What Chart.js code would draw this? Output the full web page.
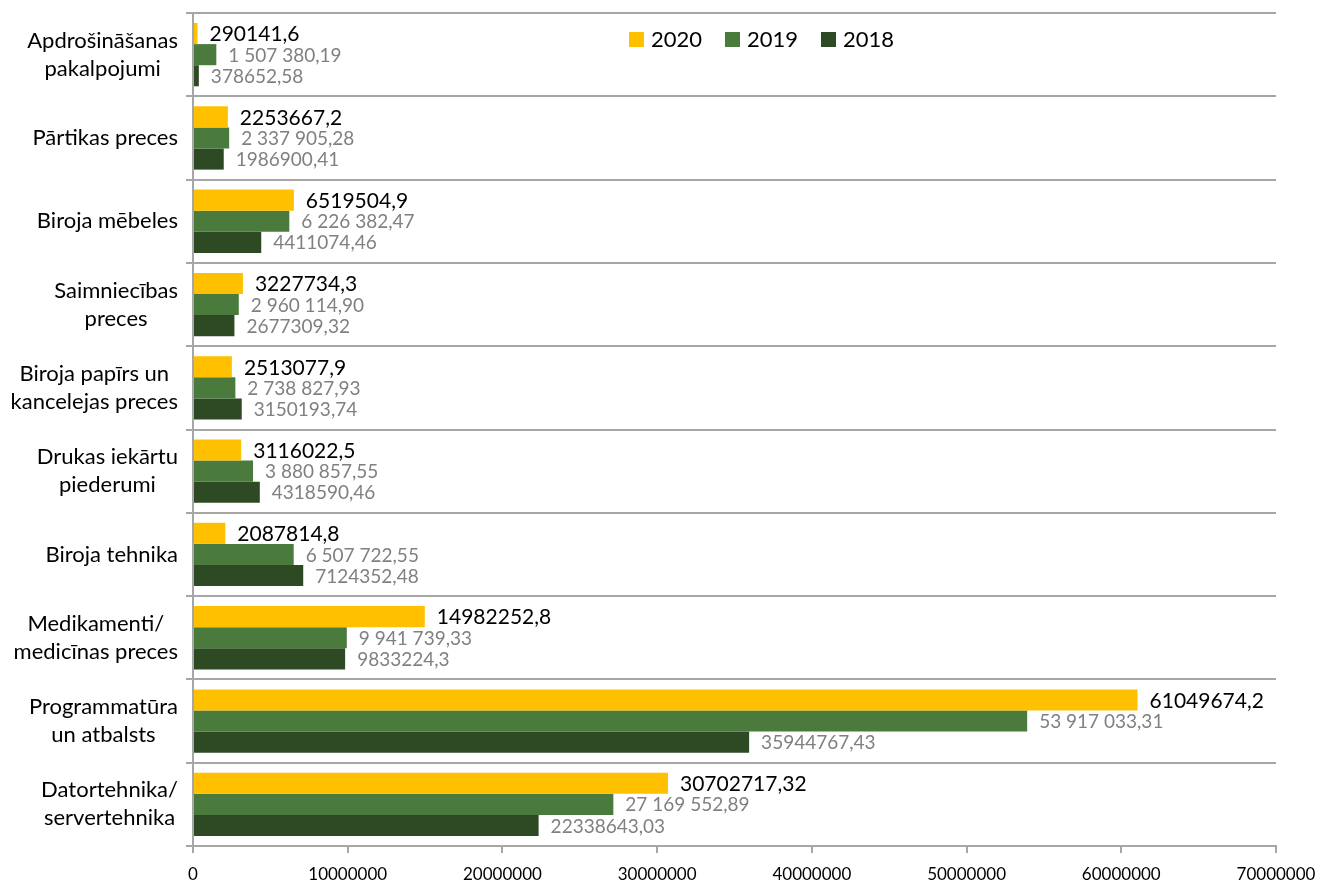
<!DOCTYPE html>
<html>
<head>
<meta charset="utf-8">
<script src="https://cdn.jsdelivr.net/npm/chart.js@4.4.1/dist/chart.umd.min.js"></script>
<style>
  html, body { margin: 0; padding: 0; background: #ffffff; }
  #wrap { width: 1322px; height: 882px; }
</style>
</head>
<body>
<div id="wrap"><canvas id="chart" width="1322" height="882"></canvas></div>
<script>
// Categories (top to bottom)
const categories = [
    ['Apdrošināšanas', 'pakalpojumi'],
    ['Pārtikas preces'],
    ['Biroja mēbeles'],
    ['Saimniecības', 'preces'],
    ['Biroja papīrs un', 'kancelejas preces'],
    ['Drukas iekārtu', 'piederumi'],
    ['Biroja tehnika'],
    ['Medikamenti/', 'medicīnas preces'],
    ['Programmatūra', 'un atbalsts'],
    ['Datortehnika/', 'servertehnika']
];

// Series values
const values2020 = [290141.6, 2253667.2, 6519504.9, 3227734.3, 2513077.9, 3116022.5, 2087814.8, 14982252.8, 61049674.2, 30702717.32];
const values2019 = [1507380.19, 2337905.28, 6226382.47, 2960114.90, 2738827.93, 3880857.55, 6507722.55, 9941739.33, 53917033.31, 27169552.89];
const values2018 = [378652.58, 1986900.41, 4411074.46, 2677309.32, 3150193.74, 4318590.46, 7124352.48, 9833224.3, 35944767.43, 22338643.03];

// X axis ticks
const xTicks = [0, 10000000, 20000000, 30000000, 40000000, 50000000, 60000000, 70000000];

const FONT = 'Lato, "Open Sans", sans-serif';
const AXIS_GREY = '#A6A6A6';

// label formats: 2020 and 2018 plain with comma decimal, 2019 grouped with spaces
function plainComma(v) {
    return String(v).replace('.', ',');
}
function groupedComma(v) {
    const parts = v.toFixed(2).split('.');
    return parts[0].replace(/\B(?=(\d{3})+(?!\d))/g, ' ') + ',' + parts[1];
}

const labelStyles = [
    { format: plainComma, color: '#000000', font: '21px ' + FONT },
    { format: groupedComma, color: '#808080', font: '19px ' + FONT },
    { format: plainComma, color: '#808080', font: '19px ' + FONT }
];

// Draws value labels at the end of each bar
const valueLabels = {
    id: 'valueLabels',
    afterDatasetsDraw(chart) {
        const ctx = chart.ctx;
        ctx.save();
        ctx.textAlign = 'left';
        ctx.textBaseline = 'middle';
        chart.data.datasets.forEach((ds, di) => {
            const meta = chart.getDatasetMeta(di);
            const style = labelStyles[di];
            ctx.font = style.font;
            ctx.fillStyle = style.color;
            meta.data.forEach((bar, i) => {
                ctx.fillText(style.format(ds.data[i]), bar.x + 12, bar.y + 1);
            });
        });
        ctx.restore();
    }
};

// Category labels: lines centred, block right aligned against the axis
const categoryLabels = {
    id: 'categoryLabels',
    afterDraw(chart) {
        const ctx = chart.ctx;
        const yScale = chart.scales.y;
        const right = yScale.right - 15;
        const lineH = 28;
        ctx.save();
        ctx.font = '22px ' + FONT;
        ctx.fillStyle = '#000000';
        ctx.textAlign = 'center';
        ctx.textBaseline = 'middle';
        categories.forEach((lines, i) => {
            const cy = yScale.getPixelForTick(i);
            const w = Math.max(...lines.map(l => ctx.measureText(l).width));
            const cx = right - w / 2;
            const startY = cy - (lines.length - 1) * lineH / 2;
            lines.forEach((l, k) => ctx.fillText(l, cx, startY + k * lineH));
        });
        ctx.restore();
    }
};

// Legend drawn inside the plot area
const insideLegend = {
    id: 'insideLegend',
    afterDraw(chart) {
        const ctx = chart.ctx;
        const area = chart.chartArea;
        let x = area.left + 436;
        const y = area.top + 27;
        ctx.save();
        ctx.font = '22px ' + FONT;
        ctx.textBaseline = 'middle';
        ctx.textAlign = 'left';
        chart.data.datasets.forEach(ds => {
            ctx.fillStyle = ds.backgroundColor;
            ctx.fillRect(x, y - 8, 15, 15);
            ctx.fillStyle = '#000000';
            ctx.fillText(ds.label, x + 22, y);
            x += 96;
        });
        ctx.restore();
    }
};

const ctx = document.getElementById('chart').getContext('2d');
new Chart(ctx, {
    type: 'bar',
    data: {
        labels: categories,
        datasets: [
            { label: '2020', data: values2020, backgroundColor: '#FFC000' },
            { label: '2019', data: values2019, backgroundColor: '#4A7A3C' },
            { label: '2018', data: values2018, backgroundColor: '#2D4A25' }
        ]
    },
    options: {
        indexAxis: 'y',
        responsive: false,
        animation: false,
        categoryPercentage: 0.76,
        barPercentage: 1,
        layout: { padding: { top: 13, right: 46, left: 0, bottom: 0 } },
        plugins: {
            legend: { display: false },
            tooltip: { enabled: false }
        },
        scales: {
            x: {
                min: 0,
                max: 70000000,
                afterBuildTicks: scale => { scale.ticks = xTicks.map(v => ({ value: v })); },
                afterFit: scale => {
                    scale.height = 36;
                    scale.paddingRight = 0;
                    scale.paddingLeft = 0;
                },
                grid: { drawOnChartArea: false, drawTicks: true, tickLength: 7, color: AXIS_GREY, lineWidth: 2 },
                border: { color: AXIS_GREY, width: 2 },
                ticks: {
                    color: '#000000',
                    font: { family: FONT, size: 17 },
                    padding: 11,
                    maxRotation: 0,
                    callback: v => String(v)
                }
            },
            y: {
                afterFit: scale => { scale.width = 193; },
                grid: { offset: true, drawTicks: true, tickLength: 7, color: AXIS_GREY, lineWidth: 2 },
                border: { color: AXIS_GREY, width: 2 },
                ticks: { display: false }
            }
        }
    },
    plugins: [valueLabels, categoryLabels, insideLegend]
});
</script>
</body>
</html>
